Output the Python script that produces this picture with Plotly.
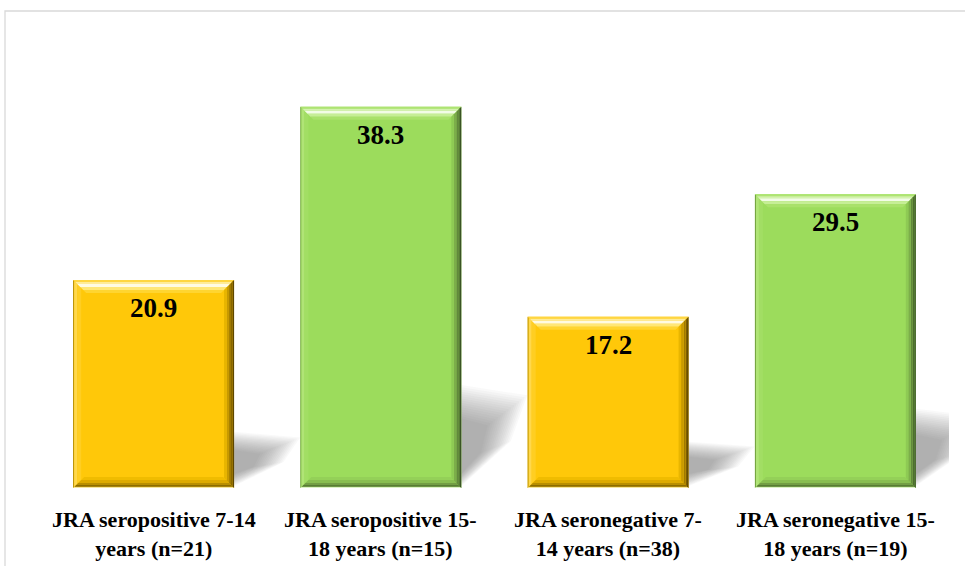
import plotly.graph_objects as go

# ---- data -------------------------------------------------------------
categories = [
    "JRA seropositive 7-14<br>years (n=21)",
    "JRA seropositive 15-<br>18 years (n=15)",
    "JRA seronegative 7-<br>14 years (n=38)",
    "JRA seronegative 15-<br>18 years (n=19)",
]
values = [20.9, 38.3, 17.2, 29.5]
bar_styles = ["gold", "green", "gold", "green"]

# ---- styling ----------------------------------------------------------
W, H = 965, 566
M = dict(l=40, r=16, t=40, b=78)
X_RANGE = [-0.5, 3.5]
Y_RANGE = [0, 45]
BAR_WIDTH = 0.708
SERIF = "Liberation Serif"

PALETTES = {
    "gold": dict(
        base="#FFC809",
        top=[(0, 2, "#FFD640"), (2, 4, "#FFEC98"), (4, 7, "#FFFBE2"),
             (7, 10, "#FFE777"), (10, 13, "#FFD530")],
        right=[(0, 1.5, "#5E4600"), (1.5, 3, "#7E5E00"), (3, 5, "#A07A00"),
               (5, 7.5, "#C89A00"), (7.5, 10, "#E8B500")],
        bottom=[(0, 1.2, "#F6E6A0"), (1.2, 3, "#8C6C00"), (3, 5, "#B88E00"),
                (5, 8, "#DDAA00"), (8, 11, "#F0BC00")],
        left=[(0, 1, "#B08800"), (1, 4, "#FFD84C"), (4, 8, "#FFCE22")],
    ),
    "green": dict(
        base="#9CDC5C",
        top=[(0, 2, "#AEE472"), (2, 4, "#D4F2AE"), (4, 7, "#F2FCE6"),
             (7, 10, "#C6EE96"), (10, 13, "#A9E16A")],
        right=[(0, 1.5, "#3A5424"), (1.5, 3, "#4E6E30"), (3, 5, "#62893C"),
               (5, 7.5, "#7CAE4A"), (7.5, 10, "#8ECA54")],
        bottom=[(0, 1.2, "#DDF2C6"), (1.2, 3, "#587C34"), (3, 5, "#729E44"),
                (5, 8, "#88BE50"), (8, 11, "#94D058")],
        left=[(0, 1, "#6E9E3E"), (1, 4, "#B0E476"), (4, 8, "#A2DE64")],
    ),
}

# pixel -> data unit conversion derived from the layout
plot_w = W - M["l"] - M["r"]
plot_h = H - M["t"] - M["b"]
px_x = (X_RANGE[1] - X_RANGE[0]) / plot_w
px_y = (Y_RANGE[1] - Y_RANGE[0]) / plot_h


def path(points):
    return "M " + " L ".join(f"{x:.5f},{y:.5f}" for x, y in points) + " Z"


xs = list(range(len(values)))

fig = go.Figure()
fig.add_trace(go.Bar(
    x=xs, y=values, width=BAR_WIDTH,
    marker=dict(color=[PALETTES[s]["base"] for s in bar_styles], line=dict(width=0)),
    hoverinfo="skip",
))

shapes = []
annotations = []
for i, (v, style) in enumerate(zip(values, bar_styles)):
    pal = PALETTES[style]
    x0 = i - BAR_WIDTH / 2
    x1 = i + BAR_WIDTH / 2
    y0, y1 = 0.0, v

    # soft cast shadow to the right of the bar base (stacked translucent layers)
    bar_px = v / px_y
    s = 0.25 * bar_px
    L = 66
    layers = 16
    for k in range(layers):
        f = k / (layers - 1)
        top = s * (1.08 - 0.35 * f)
        low = 2 + 12 * f
        ln = L * (1 - 0.6 * f)
        pts = [
            (x1, y0 + low * px_y),
            (x1, y0 + top * px_y),
            (x1 + ln * px_x, y0 + top * 0.9 * px_y),
            (x1 + ln * 0.75 * px_x, y0 + (top * 0.45 + low * 0.3) * px_y),
        ]
        shapes.append(dict(type="path", xref="x", yref="y", path=path(pts),
                           fillcolor="rgba(110,110,110,0.04)",
                           line=dict(width=0), layer="below"))

    # bevel strips: left, bottom, top, right
    for d0, d1, c in pal["left"]:
        pts = [(x0 + d0 * px_x, y0 + d0 * px_y), (x0 + d0 * px_x, y1 - d0 * px_y),
               (x0 + d1 * px_x, y1 - d1 * px_y), (x0 + d1 * px_x, y0 + d1 * px_y)]
        shapes.append(dict(type="path", xref="x", yref="y", path=path(pts),
                           fillcolor=c, line=dict(width=0), layer="above"))
    for d0, d1, c in pal["bottom"]:
        pts = [(x0 + d0 * px_x, y0 + d0 * px_y), (x1 - d0 * px_x, y0 + d0 * px_y),
               (x1 - d1 * px_x, y0 + d1 * px_y), (x0 + d1 * px_x, y0 + d1 * px_y)]
        shapes.append(dict(type="path", xref="x", yref="y", path=path(pts),
                           fillcolor=c, line=dict(width=0), layer="above"))
    for d0, d1, c in pal["top"]:
        pts = [(x0 + d0 * px_x, y1 - d0 * px_y), (x1 - d0 * px_x, y1 - d0 * px_y),
               (x1 - d1 * px_x, y1 - d1 * px_y), (x0 + d1 * px_x, y1 - d1 * px_y)]
        shapes.append(dict(type="path", xref="x", yref="y", path=path(pts),
                           fillcolor=c, line=dict(width=0), layer="above"))
    for d0, d1, c in pal["right"]:
        pts = [(x1 - d0 * px_x, y0 + d0 * px_y), (x1 - d0 * px_x, y1 - d0 * px_y),
               (x1 - d1 * px_x, y1 - d1 * px_y), (x1 - d1 * px_x, y0 + d1 * px_y)]
        shapes.append(dict(type="path", xref="x", yref="y", path=path(pts),
                           fillcolor=c, line=dict(width=0), layer="above"))

    annotations.append(dict(
        x=i, y=v, xref="x", yref="y", text=f"<b>{v}</b>", showarrow=False,
        yanchor="middle", yshift=-28,
        font=dict(family=SERIF, size=27, color="#000000"),
    ))

# category labels under each bar
for i, c in enumerate(categories):
    annotations.append(dict(
        x=i, y=0, xref="x", yref="y", text="<b>" + c.replace("<br>", "</b><br><b>") + "</b>",
        showarrow=False, yanchor="top", yshift=-17,
        font=dict(family=SERIF, size=22, color="#000000"),
    ))

# light chart-area frame (top and left edges visible)
shapes.append(dict(type="rect", xref="paper", yref="paper",
                   x0=(5 - M["l"]) / plot_w, x1=1.2,
                   y0=-0.3, y1=(H - 11 - M["b"]) / plot_h,
                   line=dict(color="#D9D9D9", width=1.3), fillcolor="rgba(0,0,0,0)",
                   layer="below"))

fig.update_layout(
    width=W, height=H, margin=M,
    font=dict(family=SERIF, color="#000000"),
    paper_bgcolor="#FFFFFF", plot_bgcolor="rgba(0,0,0,0)",
    showlegend=False,
    shapes=shapes, annotations=annotations,
    xaxis=dict(range=X_RANGE, tickmode="array", tickvals=xs, showticklabels=False,
               showgrid=False, zeroline=False, showline=False, ticks="",
               automargin=False),
    yaxis=dict(range=Y_RANGE, visible=False, showgrid=False, zeroline=False,
               automargin=False),
)

fig.write_html("out.html")
